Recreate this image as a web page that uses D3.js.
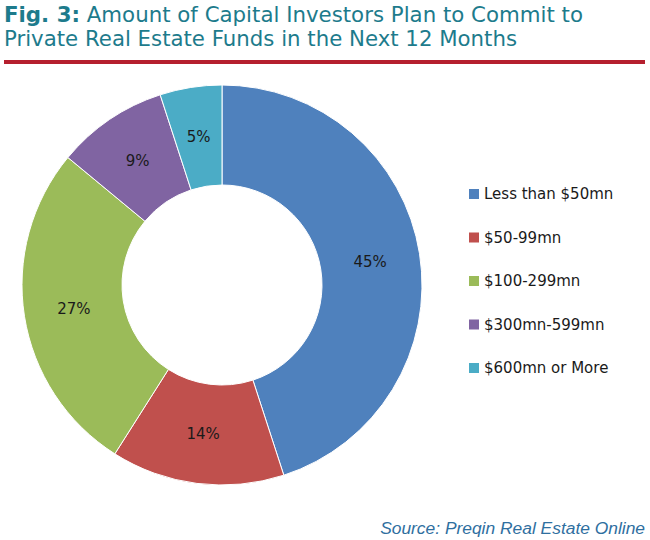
<!DOCTYPE html>
<html lang="en">
<head>
  <meta charset="utf-8">
  <style>
    body { margin: 0; background: #fff; }
    svg { display: block; }
  </style>
</head>
<body>
<div id="chart"></div>

<script type="text/javascript" src="https://d3js.org/d3.v7.js"></script>
<script type="text/javascript">

  // data
  var categories = ["Less than $50mn", "$50-99mn", "$100-299mn", "$300mn-599mn", "$600mn or More"];
  var shares = [45, 14, 27, 9, 5];
  var colours = ["#4f81bd", "#c0504d", "#9bbb59", "#8064a2", "#4bacc6"];

  var width = 650, height = 540;
  var cx = 222, cy = 285, outerR = 200, innerR = 100;

  var svg = d3.select("#chart").append("svg")
    .attr("width", width)
    .attr("height", height);

  // title
  var titleColour = "#1d7b8c";
  var t1 = svg.append("text")
    .attr("x", 4).attr("y", 22)
    .attr("font-family", "DejaVu Sans, sans-serif")
    .attr("font-size", 22)
    .attr("fill", titleColour)
    .attr("textLength", 579)
    .attr("lengthAdjust", "spacingAndGlyphs");
  t1.append("tspan").attr("font-weight", "bold").text("Fig. 3:");
  t1.append("tspan").text(" Amount of Capital Investors Plan to Commit to");

  svg.append("text")
    .attr("x", 4).attr("y", 46)
    .attr("font-family", "DejaVu Sans, sans-serif")
    .attr("font-size", 22)
    .attr("fill", titleColour)
    .attr("textLength", 513)
    .attr("lengthAdjust", "spacingAndGlyphs")
    .text("Private Real Estate Funds in the Next 12 Months");

  svg.append("rect")
    .attr("x", 4).attr("y", 60)
    .attr("width", 641).attr("height", 4)
    .attr("fill", "#b51f2e");

  // donut
  var pie = d3.pie().sort(null).value(function(d) { return d; });
  var arc = d3.arc().innerRadius(innerR).outerRadius(outerR);
  var labelArc = d3.arc().innerRadius(150).outerRadius(150);

  var g = svg.append("g").attr("transform", "translate(" + cx + "," + cy + ")");
  var arcs = pie(shares);

  g.selectAll("path.slice")
    .data(arcs)
    .enter().append("path")
    .attr("class", "slice")
    .attr("d", arc)
    .attr("fill", function(d, i) { return colours[i]; })
    .attr("stroke", "#fff")
    .attr("stroke-width", 1);

  g.selectAll("text.pct")
    .data(arcs)
    .enter().append("text")
    .attr("class", "pct")
    .attr("transform", function(d) { return "translate(" + labelArc.centroid(d) + ")"; })
    .attr("text-anchor", "middle")
    .attr("dy", "0.36em")
    .attr("font-family", "DejaVu Sans, sans-serif")
    .attr("font-size", 15)
    .attr("fill", "#1a1a1a")
    .text(function(d) { return d.data + "%"; });

  // legend
  var legendY = d3.scalePoint().domain(categories).range([194, 368]);
  var legend = svg.append("g").selectAll("g")
    .data(categories)
    .enter().append("g")
    .attr("transform", function(d) { return "translate(469," + legendY(d) + ")"; });

  legend.append("rect")
    .attr("x", 0).attr("y", -5)
    .attr("width", 10).attr("height", 10)
    .attr("fill", function(d, i) { return colours[i]; });

  legend.append("text")
    .attr("x", 15).attr("dy", "0.36em")
    .attr("font-family", "DejaVu Sans, sans-serif")
    .attr("font-size", 15)
    .attr("fill", "#1a1a1a")
    .text(function(d) { return d; });

  // source
  svg.append("text")
    .attr("x", 645).attr("y", 534)
    .attr("text-anchor", "end")
    .attr("font-family", "Liberation Sans, Arial, sans-serif")
    .attr("font-style", "italic")
    .attr("font-size", 17.4)
    .attr("fill", "#2f6f9f")
    .text("Source: Preqin Real Estate Online");

</script>
</body>
</html>
